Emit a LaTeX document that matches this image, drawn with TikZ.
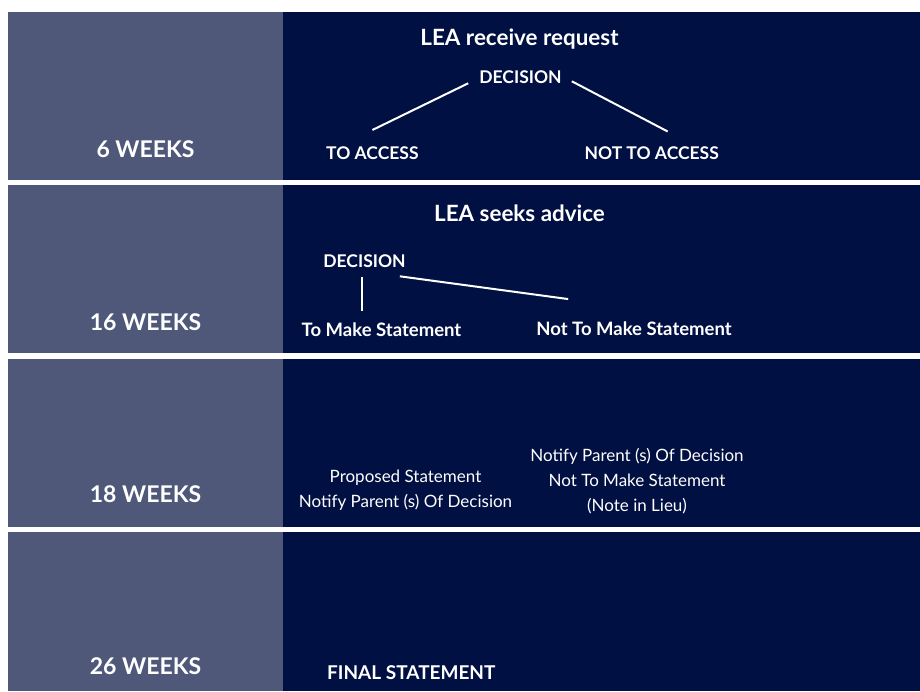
\documentclass[tikz,border=0pt]{standalone}
\usepackage{fontspec}
\setmainfont{Lato}
\definecolor{weekblue}{RGB}{79,88,121}
\definecolor{stageblue}{RGB}{0,16,66}

\begin{document}
\begin{tikzpicture}
		[x=1pt, y=-1pt,
		wk/.style = {text=white, anchor=base, inner sep=0pt, font=\fontsize{23}{23}\selectfont\bfseries},
		hd/.style = {text=white, anchor=base, inner sep=0pt, font=\fontsize{22.4}{22.4}\selectfont\bfseries},
		lb/.style = {text=white, anchor=base, inner sep=0pt, font=\fontsize{17.5}{17.5}\selectfont\bfseries},
		nt/.style = {text=white, inner sep=0pt, align=center, font=\fontsize{17}{25}\selectfont},
		ln/.style = {draw=white, line width=2pt}]
		
		\useasboundingbox (0,0) rectangle (920,691);
		\foreach \yt/\yb/\yw/\n/\weeks in {
			12/180/157/6/6 WEEKS,
			185/353/330/16/16 WEEKS,
			359/527/502/18/18 WEEKS,
			532/691/674/26/26 WEEKS}
		{
			\fill[weekblue] (8,\yt) rectangle (283,\yb);
			\fill[stageblue] (283,\yt) rectangle (920,\yb);
			\node[wk] (w\n) at (145.5,\yw) {\weeks};
		}
		
		\node[hd] (req1) at (519.5,45.7) {LEA receive request};
		\node[lb] (dec1) at (520.5,83.3) {DECISION};
		\node[lb] (acc1) at (372.4,159) {TO ACCESS};
		\node[lb] (nacc1) at (651.7,159.5) {NOT TO ACCESS};
		
		\node[hd] (adv2) at (519.5,221.5) {LEA seeks advice};
		\node[lb] (dec2) at (364.5,267.3) {DECISION};
		\node[lb, font=\fontsize{18.5}{18.5}\selectfont\bfseries] (tms2) at (381.5,336.5) {To Make Statement};
		\node[lb, font=\fontsize{18.5}{18.5}\selectfont\bfseries] (ntms2) at (634,335) {Not To Make Statement};
		
		\node[nt] (prop3) at (405.5,490) {Proposed Statement\\Notify Parent (s) Of Decision};
		\node[nt] (note3) at (637,481) {Notify Parent (s) Of Decision\\Not To Make Statement\\(Note in Lieu)};
		
		\node[lb, font=\fontsize{19}{19}\selectfont\bfseries] (final4) at (411.3,679.3) {FINAL STATEMENT};
		
		\draw[ln] ([xshift=-11pt]dec1.base west) -- ([yshift=16pt]acc1.north);
		\draw[ln] ([xshift=10pt,yshift=2pt]dec1.base east) -- ([xshift=16pt,yshift=15pt]nacc1.north);
		
		\coordinate (v2) at ([xshift=-3pt,yshift=-9pt]dec2.south);
		\draw[ln, shorten >=12pt] (v2) -- (v2 |- tms2.north);
		\draw[ln] ([xshift=-6pt,yshift=-9pt]dec2.base east) -- ([xshift=32pt,yshift=22pt]ntms2.north west);
		
	\end{tikzpicture}
\end{document}
